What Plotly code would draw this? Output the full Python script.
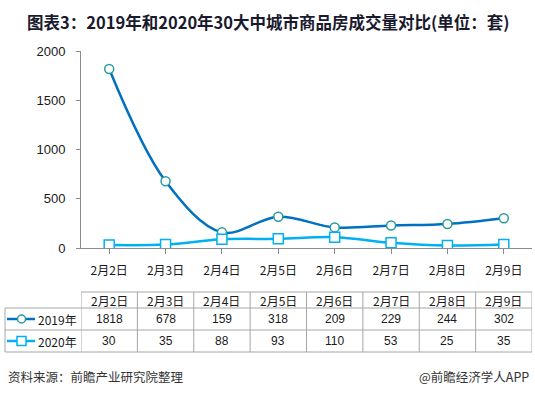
import plotly.graph_objects as go

categories = ["2月2日", "2月3日", "2月4日", "2月5日", "2月6日", "2月7日", "2月8日", "2月9日"]
series_names = ["2019年", "2020年"]
values_2019 = [1818, 678, 159, 318, 209, 229, 244, 302]
values_2020 = [30, 35, 88, 93, 110, 53, 25, 35]
y_ticks = [0, 500, 1000, 1500, 2000]

W, H = 535, 397
L, R, T, B = 81, 3, 51, 149
PW, PH = W - L - R, H - T - B

def px_x(p):
    return (p - L) / PW

def px_y(p):
    return (H - B - p) / PH

C2019 = "#0070C0"
C2019M = "#2A9B9B"
C2020 = "#00B0F0"
GRID = "#A6A6A6"
TXT = "#1A1A1A"
FONT = "Liberation Sans, Noto Sans CJK SC, sans-serif"
CJK = "Noto Sans CJK SC, sans-serif"

xs = list(range(len(categories)))
fig = go.Figure()
fig.add_trace(go.Scatter(
    x=xs, y=values_2019, mode="lines+markers", name=series_names[0],
    line=dict(color=C2019, width=2.5, shape="spline", smoothing=1.0),
    marker=dict(symbol="circle", size=9, color="white", line=dict(color=C2019M, width=1.5)),
))
fig.add_trace(go.Scatter(
    x=xs, y=values_2020, mode="lines+markers", name=series_names[1],
    line=dict(color=C2020, width=2.5, shape="spline", smoothing=1.0),
    marker=dict(symbol="square", size=10, color="white", line=dict(color=C2020, width=1.5)),
))

shapes = []
annotations = []

row_lines = [292, 308, 330, 352]
left_px = 5
n = len(categories)

def ann(**kw):
    kw.setdefault("showarrow", False)
    kw.setdefault("yanchor", "middle")
    kw.setdefault("xanchor", "center")
    annotations.append(kw)

shapes.append(dict(type="line", xref="x", yref="paper", x0=-0.5, x1=n - 0.5,
                   y0=px_y(row_lines[0]), y1=px_y(row_lines[0]), line=dict(color=GRID, width=1)))
for rl in row_lines[1:]:
    shapes.append(dict(type="line", xref="paper", yref="paper", x0=px_x(left_px), x1=1,
                       y0=px_y(rl), y1=px_y(rl), line=dict(color=GRID, width=1)))
for i in range(n + 1):
    shapes.append(dict(type="line", xref="x", yref="paper", x0=i - 0.5, x1=i - 0.5,
                       y0=px_y(row_lines[0]), y1=px_y(row_lines[-1]), line=dict(color=GRID, width=1)))
shapes.append(dict(type="line", xref="paper", yref="paper", x0=px_x(left_px), x1=px_x(left_px),
                   y0=px_y(row_lines[1]), y1=px_y(row_lines[-1]), line=dict(color=GRID, width=1)))

rows = [values_2019, values_2020]
for i, c in enumerate(categories):
    ann(x=i, y=px_y((row_lines[0] + row_lines[1]) / 2), xref="x", yref="paper",
        text=c, font=dict(family=CJK, size=12, color=TXT))
    for r, vals in enumerate(rows):
        yc = (row_lines[r + 1] + row_lines[r + 2]) / 2
        ann(x=i, y=px_y(yc), xref="x", yref="paper", text=str(vals[i]),
            font=dict(family=FONT, size=12, color=TXT))

keys = [(C2019, C2019M, "circle"), (C2020, C2020, "square")]
for r, (lc, mc, sym) in enumerate(keys):
    yc = (row_lines[r + 1] + row_lines[r + 2]) / 2
    shapes.append(dict(type="line", xref="paper", yref="paper", x0=px_x(7), x1=px_x(35),
                       y0=px_y(yc), y1=px_y(yc), line=dict(color=lc, width=2.5)))
    s = 4 if sym == "circle" else 4.5
    shapes.append(dict(type="circle" if sym == "circle" else "rect", xref="paper", yref="paper",
                       x0=px_x(21.5 - s), x1=px_x(21.5 + s), y0=px_y(yc - s), y1=px_y(yc + s),
                       fillcolor="white", line=dict(color=mc, width=1.5)))
    ann(x=px_x(36), y=px_y(yc), xref="paper", yref="paper", text=series_names[r],
        xanchor="left", font=dict(family=CJK, size=12, color=TXT))

ann(x=px_x(268), y=px_y(22), xref="paper", yref="paper",
    text="<b>图表3：2019年和2020年30大中城市商品房成交量对比(单位：套)</b>",
    font=dict(family=CJK, size=16.5, color="#1A1A2E"))
ann(x=px_x(6), y=px_y(377), xref="paper", yref="paper", xanchor="left",
    text="资料来源：前瞻产业研究院整理", font=dict(family=CJK, size=12.5, color="#333333"))
ann(x=px_x(531), y=px_y(377), xref="paper", yref="paper", xanchor="right",
    text="@前瞻经济学人APP", font=dict(family=CJK, size=12.5, color="#333333"))

fig.update_layout(
    template="none",
    width=W, height=H, autosize=False, margin=dict(l=L, r=R, t=T, b=B, pad=0, autoexpand=False),
    paper_bgcolor="white", plot_bgcolor="white", showlegend=False,
    shapes=shapes, annotations=annotations,
    xaxis=dict(range=[-0.5, n - 0.5], tickmode="array", tickvals=xs, ticktext=categories,
               automargin=False,
               showgrid=False, zeroline=False, showline=True, linecolor="#8C8C8C", linewidth=1,
               ticks="outside", ticklen=5, tickcolor="#8C8C8C", tickson="boundaries",
               ticklabelstandoff=7,
               tickfont=dict(family=CJK, size=12, color=TXT)),
    yaxis=dict(range=[0, 2000], tickvals=y_ticks, showgrid=False, zeroline=False, automargin=False,
               showline=True, linecolor="#8C8C8C", linewidth=1, ticks="outside", ticklen=4,
               tickcolor="#8C8C8C", ticklabelstandoff=8,
               tickfont=dict(family=FONT, size=13, color=TXT)),
)

fig.write_html("out.html", config={"displayModeBar": False},
               post_script="document.body.style.margin='0';")
